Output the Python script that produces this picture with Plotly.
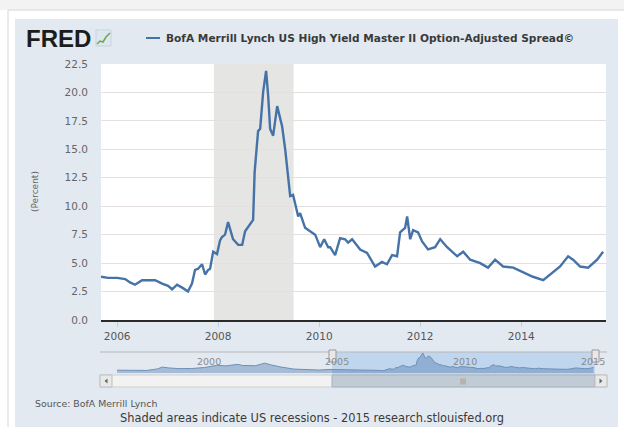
import plotly.graph_objects as go

# ---------------- data ----------------
dates = [
    "2005-09-06", "2005-10-27", "2006-01-01", "2006-02-28", "2006-04-04", "2006-05-10",
    "2006-06-30", "2006-08-27", "2006-10-02", "2006-11-22", "2007-01-04", "2007-02-02",
    "2007-03-10", "2007-04-22", "2007-05-28", "2007-06-26", "2007-07-18", "2007-08-09",
    "2007-09-07", "2007-09-29", "2007-10-21", "2007-11-04", "2007-11-26", "2007-12-24",
    "2008-01-15", "2008-01-29", "2008-02-20", "2008-03-13", "2008-03-27", "2008-04-18",
    "2008-05-25", "2008-06-23", "2008-07-14", "2008-08-20", "2008-09-10", "2008-09-21",
    "2008-10-16", "2008-10-31", "2008-11-22", "2008-12-13", "2008-12-28", "2009-01-11",
    "2009-02-02", "2009-03-03", "2009-04-08", "2009-04-30", "2009-05-21", "2009-06-05",
    "2009-06-26", "2009-08-02", "2009-08-16", "2009-09-21", "2009-10-27", "2009-12-03",
    "2010-01-08", "2010-02-06", "2010-03-07", "2010-03-21", "2010-04-26", "2010-06-01",
    "2010-07-07", "2010-07-29", "2010-08-27", "2010-10-24", "2010-12-13", "2011-02-09",
    "2011-03-31", "2011-05-06", "2011-06-12", "2011-07-18", "2011-08-09", "2011-09-14",
    "2011-09-29", "2011-10-21", "2011-11-11", "2011-12-17", "2012-01-15", "2012-02-27",
    "2012-04-18", "2012-05-25", "2012-07-14", "2012-09-25", "2012-11-07", "2012-12-28",
    "2013-03-10", "2013-05-06", "2013-06-26", "2013-08-23", "2013-11-04", "2014-01-15",
    "2014-03-27", "2014-06-09", "2014-07-29", "2014-10-09", "2014-12-06", "2015-01-11",
    "2015-03-03", "2015-04-30", "2015-07-04", "2015-08-16",
]
spread = [
    3.8, 3.7, 3.7, 3.6, 3.3, 3.1,
    3.5, 3.5, 3.5, 3.2, 3.0, 2.7,
    3.1, 2.8, 2.5, 3.2, 4.4, 4.5,
    4.9, 4.0, 4.4, 4.5, 6.0, 5.8,
    7.0, 7.3, 7.5, 8.6, 8.0, 7.1,
    6.6, 6.6, 7.8, 8.4, 8.8, 13.0,
    16.6, 16.8, 20.1, 21.9, 19.7, 16.8,
    16.2, 18.8, 17.0, 15.0, 12.6, 10.9,
    11.0, 9.1, 9.4, 8.1, 7.8, 7.5,
    6.4, 7.1, 6.4, 6.4, 5.7, 7.2,
    7.1, 6.8, 7.1, 6.2, 5.9, 4.7,
    5.1, 4.9, 5.7, 5.6, 7.7, 8.1,
    9.1, 7.1, 7.9, 7.7, 6.9, 6.2,
    6.4, 7.1, 6.4, 5.6, 6.0, 5.3,
    5.0, 4.6, 5.3, 4.7, 4.6, 4.2,
    3.8, 3.5, 4.0, 4.7, 5.6, 5.3,
    4.7, 4.6, 5.3, 6.0,
]

# earlier history, shown only in the navigator strip
nav_hist_dates = [
    "1996-12-31", "1997-06-01", "1997-10-01", "1998-03-01", "1998-08-01", "1998-10-10",
    "1999-01-01", "1999-06-01", "1999-12-01", "2000-06-01", "2000-12-01", "2001-04-01",
    "2001-09-20", "2001-12-01", "2002-06-01", "2002-10-10", "2003-01-01", "2003-06-01",
    "2003-12-01", "2004-06-01", "2004-12-01", "2005-04-15",
]
nav_hist_values = [
    3.1, 2.9, 2.7, 2.8, 4.5, 6.5,
    5.6, 4.8, 4.9, 6.0, 8.5, 7.8,
    9.5, 8.2, 8.0, 10.8, 9.0, 6.5,
    4.3, 3.8, 3.2, 3.9,
]

recession_start, recession_end = "2007-12-01", "2009-06-30"
y_ticks = [0, 2.5, 5, 7.5, 10, 12.5, 15, 17.5, 20, 22.5]
x_range = ["2005-09-06", "2015-09-06"]
nav_range = ["1996-12-31", "2015-09-06"]
nav_labels = ["2000", "2005", "2010", "2015"]

series_name = "BofA Merrill Lynch US High Yield Master II Option-Adjusted Spread\u00a9"
source_text = "Source: BofA Merrill Lynch"
footer_text = "Shaded areas indicate US recessions - 2015 research.stlouisfed.org"

# ---------------- geometry helpers (pixel -> paper) ----------------
W, H = 624, 427
PL, PR, PT, PB = 101, 606, 64, 375   # overall plotting box in px


def X(px):
    return (px - PL) / (PR - PL)


def Y(py):
    return (PB - py) / (PB - PT)


BLUE = "#4572a7"
PANEL = "#e2e9f1"

fig = go.Figure()

# main series
fig.add_trace(go.Scatter(
    x=dates, y=spread, mode="lines",
    line=dict(color=BLUE, width=2.4), xaxis="x", yaxis="y",
    showlegend=False, hoverinfo="skip",
))

# navigator series
fig.add_trace(go.Scatter(
    x=nav_hist_dates + dates, y=nav_hist_values + spread, mode="lines",
    line=dict(color="#6f8fb8", width=1), fill="tozeroy",
    fillcolor="rgba(69,114,167,0.38)", xaxis="x2", yaxis="y2",
    showlegend=False, hoverinfo="skip",
))

shapes = []


def rect(x0, y0, x1, y1, fill, line=None, lw=1, layer="below"):
    shapes.append(dict(
        type="rect", xref="paper", yref="paper",
        x0=X(x0), x1=X(x1), y0=Y(y1), y1=Y(y0),
        fillcolor=fill, line=dict(color=line or "rgba(0,0,0,0)", width=lw if line else 0),
        layer=layer,
    ))


# page frame and panel
rect(0, 0, 624, 10, "#f3f3f3")
rect(8, 10, 640, 440, "#ffffff", "#d6d6d6")
rect(15, 19, 618, 440, PANEL)
# white plotting area of main chart
rect(101, 64, 606, 320, "#ffffff")
# recession shading
shapes.append(dict(
    type="rect", xref="x", yref="paper", x0=recession_start, x1=recession_end,
    y0=Y(320), y1=1, fillcolor="#e5e5e3", line=dict(width=0), layer="below",
))
# navigator selection
rect(332, 352, 595, 375, "rgba(150,190,235,0.45)")
# navigator top rule
shapes.append(dict(type="line", xref="paper", yref="paper", x0=X(100), x1=X(607),
                   y0=Y(352), y1=Y(352), line=dict(color="#b8b8b8", width=1), layer="above"))
# handles
for hx in (332, 595):
    rect(hx - 3, 350, hx + 4, 362, "#ebe7e8", "#999999", 1, "above")
# scrollbar
rect(100, 375, 607, 387, "#f2f2f2", "#cfcfcf", 1, "above")
rect(332, 375, 595, 387, "#c0cbd5", "#a9b3bc", 1, "above")
rect(100, 375, 112, 387, "#e9e9e9", "#bdbdbd", 1, "above")
rect(595, 375, 607, 387, "#e9e9e9", "#bdbdbd", 1, "above")


def tri(points, color):
    path = "M " + " L ".join(f"{X(a)},{Y(b)}" for a, b in points) + " Z"
    shapes.append(dict(type="path", xref="paper", yref="paper", path=path,
                       fillcolor=color, line=dict(width=0), layer="above"))


tri([(107.5, 378.5), (107.5, 383.5), (104.5, 381)], "#666666")
tri([(599.5, 378.5), (599.5, 383.5), (602.5, 381)], "#666666")

# FRED icon
rect(96, 30, 111, 46, "#dfe7ee", "#c8d3dc", 1, "above")
icon = [(97, 44), (100, 41), (103, 42), (106, 37), (110, 33)]
shapes.append(dict(type="path", xref="paper", yref="paper",
                   path="M " + " L ".join(f"{X(a)},{Y(b)}" for a, b in icon),
                   line=dict(color="#6aa84f", width=1.5), layer="above"))
# legend line
shapes.append(dict(type="line", xref="paper", yref="paper", x0=X(146), x1=X(160),
                   y0=Y(38), y1=Y(38), line=dict(color=BLUE, width=2), layer="above"))

annotations = [
    dict(text="<b>FRED</b>", x=X(24), y=Y(38.5), xanchor="left", yanchor="middle",
         font=dict(family="Liberation Sans", size=24, color="#1c1c1c")),
    dict(text="<b>" + series_name + "</b>", x=X(164), y=Y(38), xanchor="left", yanchor="middle",
         font=dict(family="DejaVu Sans", size=10.6, color="#3a3a3a")),
    dict(text="(Percent)", x=X(35), y=Y(192), xanchor="center", yanchor="middle", textangle=-90,
         font=dict(family="DejaVu Sans", size=9, color="#666666")),
    dict(text=source_text, x=X(33), y=Y(403), xanchor="left", yanchor="middle",
         font=dict(family="DejaVu Sans", size=9.4, color="#555555")),
    dict(text=footer_text, x=X(312), y=Y(418), xanchor="center", yanchor="middle",
         font=dict(family="DejaVu Sans", size=11.4, color="#3a3a3a")),
    dict(text="|||", x=X(463), y=Y(381), xanchor="center", yanchor="middle",
         font=dict(family="DejaVu Sans", size=6, color="#6a747d")),
]
for lab in nav_labels:
    annotations.append(dict(
        text=lab, x=lab + "-01-01", xref="x2", y=Y(361), xanchor="left", yanchor="middle",
        xshift=1, showarrow=False,
        font=dict(family="DejaVu Sans", size=9.5, color="#8a8a8a"),
    ))
for a in annotations:
    a.setdefault("xref", "paper")
    a["yref"] = "paper"
    a["showarrow"] = False

fig.update_layout(
    width=W, height=H,
    margin=dict(l=PL, r=W - PR, t=PT, b=H - PB, pad=0),
    paper_bgcolor="#ffffff",
    plot_bgcolor="rgba(0,0,0,0)",
    showlegend=False,
    shapes=shapes,
    annotations=annotations,
    xaxis=dict(
        type="date", range=x_range, domain=[0, 1], anchor="y",
        tick0="2006-01-01", dtick="M24", tickformat="%Y",
        ticks="outside", ticklen=5, tickcolor="#c0d0e0",
        showgrid=False, showline=True, linecolor="#2a2a2a", linewidth=2,
        zeroline=False,
        tickfont=dict(family="DejaVu Sans", size=10.5, color="#555555"),
    ),
    yaxis=dict(
        range=[0, 22.5], domain=[Y(320), 1], anchor="x",
        tickvals=y_ticks, tickformat=".1f",
        showgrid=True, gridcolor="#e6dfdf", gridwidth=1,
        zeroline=False, showline=False, ticks="",
        ticklabelstandoff=12,
        tickfont=dict(family="DejaVu Sans", size=10.5, color="#666666"),
    ),
    xaxis2=dict(
        type="date", range=nav_range, domain=[X(117), X(595)], anchor="y2",
        showticklabels=False, showgrid=False, zeroline=False, showline=False, ticks="",
    ),
    yaxis2=dict(
        range=[0, 23], domain=[Y(373), Y(352)], anchor="x2",
        showticklabels=False, showgrid=False, zeroline=False, showline=False, ticks="",
    ),
)

fig.write_html(
    "out.html",
    config={"displayModeBar": False},
    post_script="document.body.style.margin='0';document.body.style.overflow='hidden';",
)
